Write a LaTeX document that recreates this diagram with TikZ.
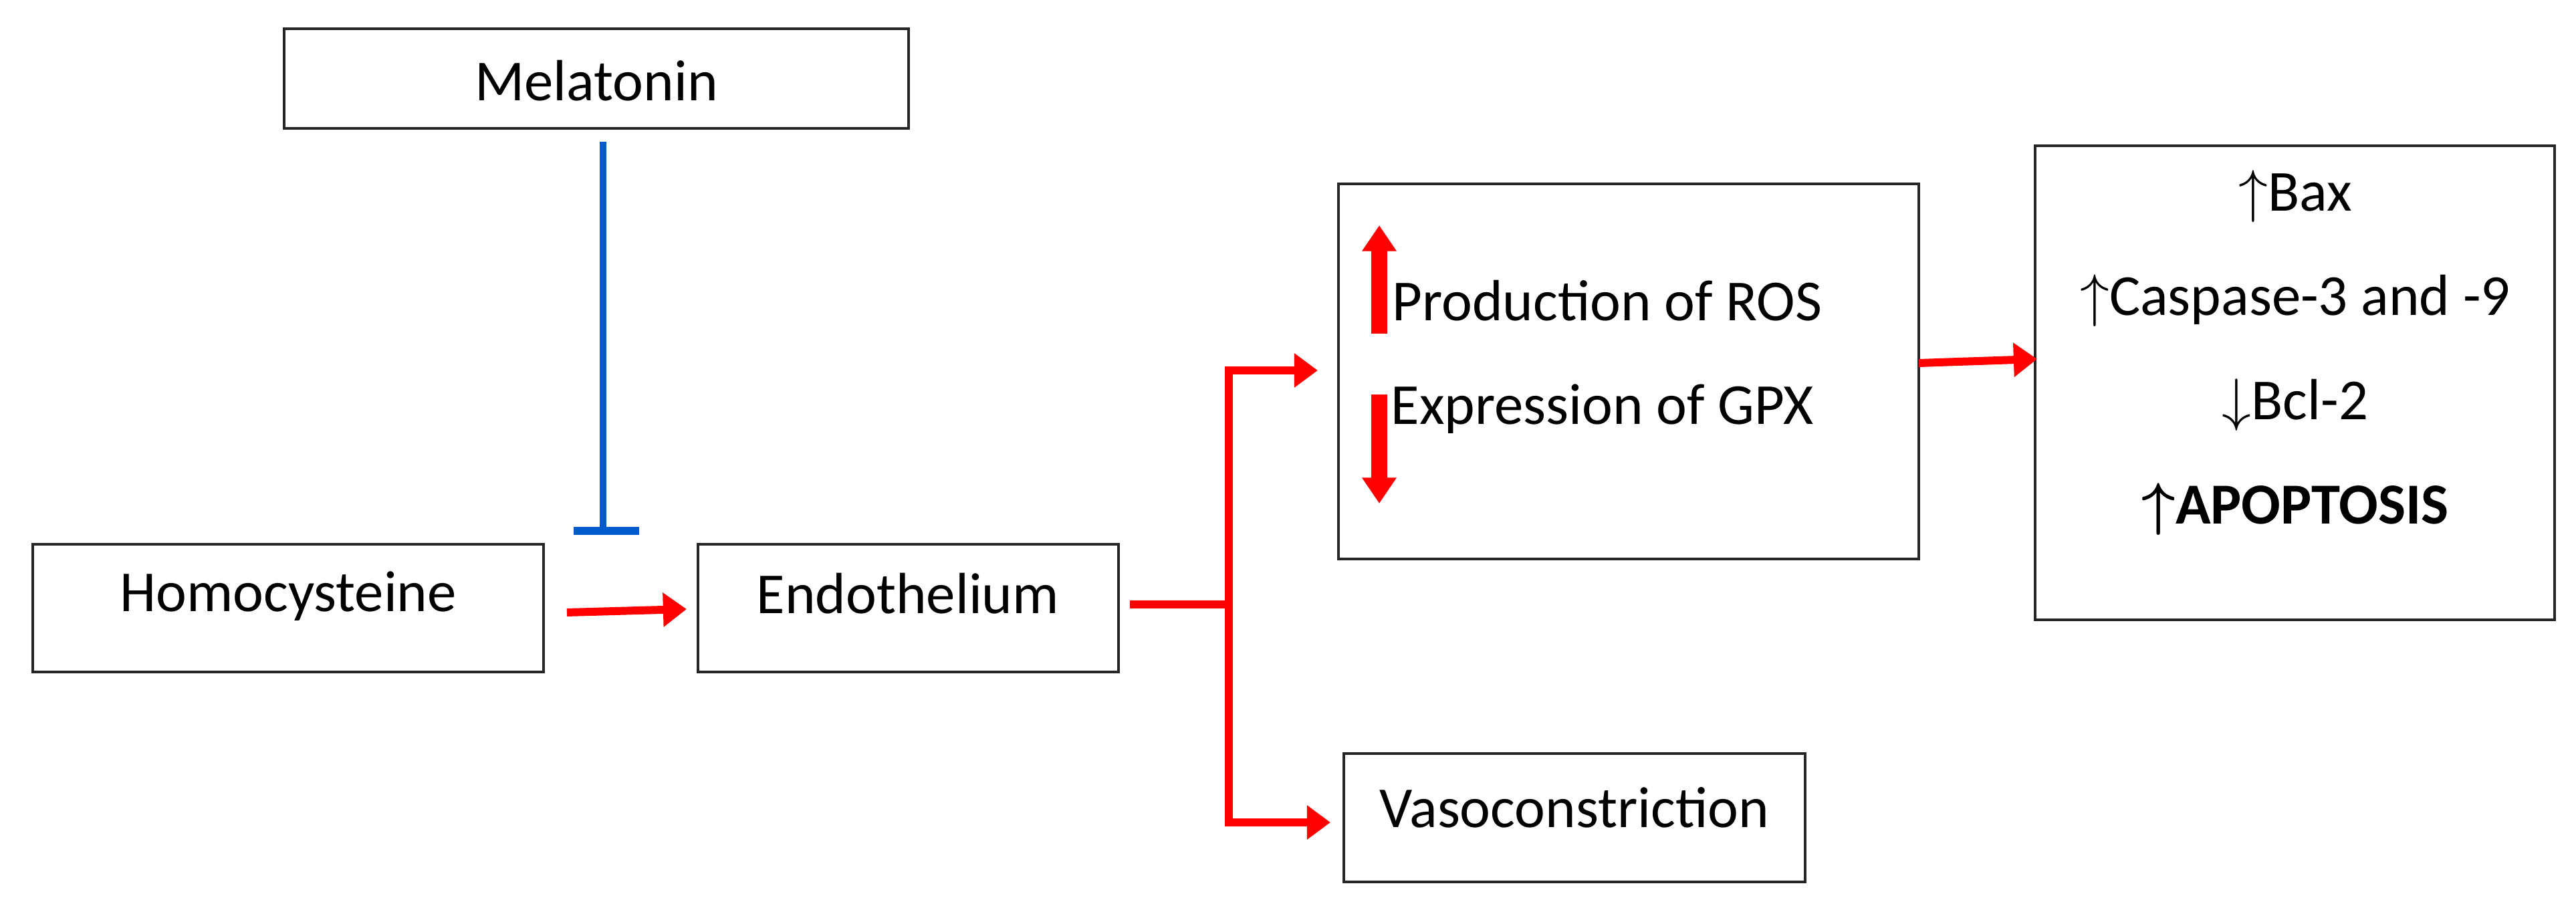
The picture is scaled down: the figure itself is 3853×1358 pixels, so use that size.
\documentclass[tikz,border=0pt]{standalone}
\usepackage{amsmath}
\usepackage{fontspec}
\setmainfont{Carlito}
\usetikzlibrary{arrows.meta}
\begin{document}
\begin{tikzpicture}[x=0.01cm,y=-0.01cm,
  box/.style={draw=black!85,line width=1.1pt,fill=none},
  txt/.style={font=\fontsize{24.7}{30}\selectfont,inner sep=0pt},
  red arrow/.style={draw=red,line width=3.4pt,-{Triangle[width=14pt,length=10pt]}},
  fat arrow/.style={draw=red,line width=6.8pt,-{Triangle[width=14pt,length=11pt]}}]
\useasboundingbox (0,0) rectangle (3853,1358);
% boxes
\draw[box] (425,43) rectangle (1359,192);
\draw[box] (49,814) rectangle (813,1005);
\draw[box] (1044,814) rectangle (1673,1005);
\draw[box] (2002,275) rectangle (2870,836);
\draw[box] (3044,218) rectangle (3821,927);
\draw[box] (2010,1127) rectangle (2700,1319);
% node anchors
\coordinate (melS) at (902,212);
\coordinate (melT) at (902,794);
\coordinate (homE) at (848,916);
\coordinate (endW) at (1027,911);
\coordinate (endE) at (1690,904);
\coordinate (junc) at (1838,904);
\coordinate (rosW) at (1971,554);
\coordinate (vasW) at (1990,1230);
\coordinate (rosE) at (2870,543);
\coordinate (apoW) at (3047,537);
% texts
\node[txt] (mel) at (892,121) {Melatonin};
\node[txt] (hom) at (431,892) {Homocysteine};
\node[txt] (end) at (1358,888) {Endothelium};
\node[txt,anchor=base west] (ros) at (2082,480) {Production of ROS};
\node[txt,anchor=base west] (gpx) at (2080,635) {Expression of GPX};
\node[txt] (vas) at (2355,1208) {Vasoconstriction};
\node[txt] (bax) at (3433,294) {$\uparrow$Bax};
\node[txt] (cas) at (3433,450) {$\uparrow$Caspase-3 and -9};
\node[txt] (bcl) at (3433,606) {$\downarrow$Bcl-2};
\node[txt,font=\fontsize{24.7}{30}\selectfont\bfseries] (apo) at (3433,762) {$\boldsymbol{\uparrow}$APOPTOSIS};
% inhibition
\draw[draw=blue!55!cyan!80!black,line width=2.8pt] (melS) -- (melT);
\draw[draw=blue!55!cyan!80!black,line width=3.6pt] (858,794) -- (956,794);
% connectors
\draw[red arrow] (homE) -- (endW);
\draw[draw=red,line width=3.4pt] (endE) -- (junc);
\draw[red arrow] (junc) |- (rosW);
\draw[red arrow] (junc) |- (vasW);
\draw[red arrow] (rosE) -- (apoW);
% up/down arrows
\draw[fat arrow] (2063,499) -- (2063,337);
\draw[fat arrow] (2063,590) -- (2063,753);
\end{tikzpicture}
\end{document}
